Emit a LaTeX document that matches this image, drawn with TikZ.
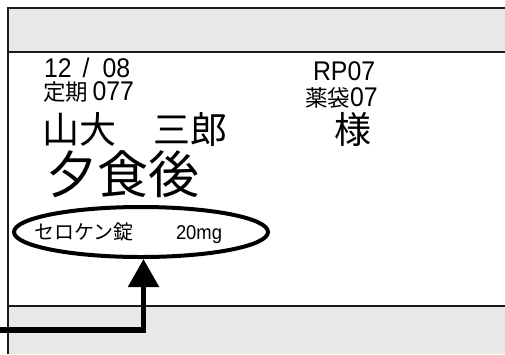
\documentclass[tikz,border=0pt]{standalone}
\usepackage{fontspec}
\setmainfont{Liberation Sans}[FakeStretch=0.92]
\newfontfamily\jp{Noto Sans CJK JP}
\usetikzlibrary{shapes.geometric,arrows.meta}
\definecolor{band}{HTML}{E8E8E8}
\definecolor{rule}{HTML}{1A1A1A}
\tikzset{
  lbl/.style={anchor=base west, inner sep=0pt, outer sep=0pt},
  small/.style={lbl, font=\fontsize{27pt}{27pt}\selectfont},
  mid/.style={lbl, font=\fontsize{37pt}{37pt}\selectfont\jp},
  big/.style={lbl, font=\fontsize{51pt}{51pt}\selectfont\jp},
  drugtxt/.style={lbl, font=\fontsize{20pt}{20pt}\selectfont},
  oval/.style={ellipse, draw=black, line width=4pt, minimum width=254pt, minimum height=50pt, inner sep=0pt},
  conn/.style={line width=5.5pt, black, -{Triangle[width=30pt,length=28pt]}},
  rulel/.style={line width=2pt, draw=rule}
}
\newcommand{\jps}[1]{{\fontsize{22.5pt}{22.5pt}\selectfont\jp #1}}
\newcommand{\twolines}[3]{\vbox{\baselineskip=#1\hbox{#2}\hbox{#3}}}
\begin{document}
\begin{tikzpicture}[x=1pt,y=-1pt]
\useasboundingbox (0,0) rectangle (505,354);
% header and footer bands
\fill[band] (8,8) rectangle (505,52);
\fill[band] (8,306) rectangle (505,354);
\draw[rulel] (7,8) -- (505,8);
\draw[rulel] (8,52) -- (505,52);
\draw[rulel] (8,306) -- (505,306);
\draw[rulel] (8,7) -- (8,354);
% texts
\node[small] (datebox) at (43,100)
  {\twolines{23pt}{\hspace{1pt}12\hspace{11pt}/\hspace{13pt}08}{\jps{定期}\,077}};
\node[mid] (name) at (42,143) {山大　三郎};
\node[big] (timing) at (46,193) {夕食後};
\node[small] (rpbox) at (305,106)
  {\twolines{26pt}{\hspace{8pt}RP07}{\jps{薬袋}07}};
\node[mid] (sama) at (334,143) {様};
% drug oval
\node[oval] (ell) at (141,232) {};
\node[drugtxt] (drugname) at (34,239) {{\jp セロケン錠}};
\node[drugtxt] (dose) at (176,239) {20mg};
% connector
\coordinate (src) at (0,330);
\draw[conn] (src) -| ([xshift=2.5pt]ell.south);
\end{tikzpicture}
\end{document}
